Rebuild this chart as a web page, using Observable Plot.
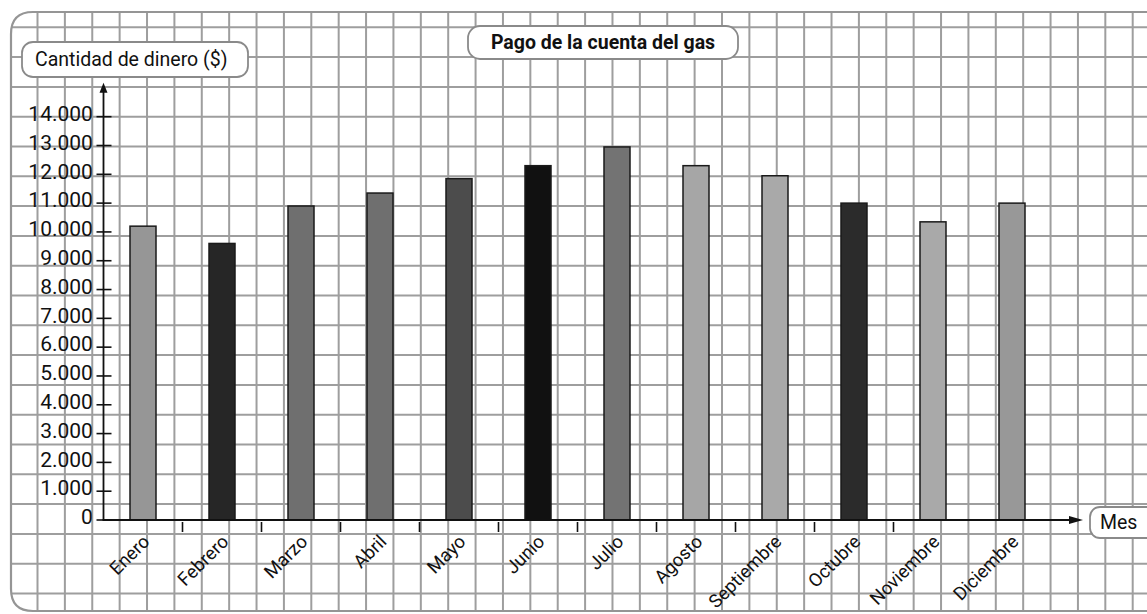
<!DOCTYPE html>
<html><head><meta charset="utf-8">
<script src="https://cdn.jsdelivr.net/npm/d3@7"></script>
<script src="https://cdn.jsdelivr.net/npm/@observablehq/plot@0.6"></script>
<style>
html,body{margin:0;padding:0;background:#fff;}
#chart{width:1147px;height:614px;}
</style></head><body><div id="chart"></div>
<script>
// ---- data ----
const months = ["Enero","Febrero","Marzo","Abril","Mayo","Junio","Julio","Agosto","Septiembre","Octubre","Noviembre","Diciembre"];
const amounts = [10200, 9600, 10900, 11350, 11850, 12300, 12950, 12300, 11950, 11000, 10350, 11000];
const barFills = ["#969696","#262626","#6f6f6f","#6f6f6f","#4c4c4c","#111111","#737373","#a6a6a6","#a9a9a9","#2b2b2b","#a9a9a9","#989898"];
const yTicks = [0,1000,2000,3000,4000,5000,6000,7000,8000,9000,10000,11000,12000,13000,14000];
const separatorMonths = ["Enero","Febrero","Marzo","Abril","Mayo","Junio","Julio","Agosto","Septiembre","Octubre"];
const titleText = "Pago de la cuenta del gas";
const yLabelText = "Cantidad de dinero ($)";
const xLabelText = "Mes";

// ---- chart ----
const W = 1147, H = 614;
const FONT = "Roboto, 'Open Sans', sans-serif";
const INK = "#111111";
const FS = 19;
const data = months.map((m, i) => ({month: m, amount: amounts[i], fill: barFills[i]}));
const fmt = d3.formatLocale({decimal: ",", thousands: ".", grouping: [3], currency: ["$", ""]}).format(",");

const plot = Plot.plot({
  width: W, height: H,
  marginLeft: 102.4, marginRight: 94.2, marginTop: 116.7, marginBottom: 94,
  style: {fontFamily: FONT, fontSize: FS + "px", fontWeight: 400, color: INK, background: "white", overflow: "visible"},
  x: {domain: months, paddingInner: 0.67, paddingOuter: 0.335, align: 0.5, axis: null},
  y: {domain: [0, 14000], axis: null},
  color: {type: "identity"},
  marks: [
    Plot.barY(data, {x: "month", y: "amount", fill: "fill", stroke: "#1a1a1a", strokeWidth: 1.5}),
    Plot.text(yTicks, {y: d => d, text: d => fmt(d), frameAnchor: "left", textAnchor: "end", dx: -10, dy: -3, fontSize: 21, fill: INK, style: "letter-spacing:-0.8px"}),
    Plot.text(data, {x: "month", y: 0, text: "month", rotate: -45, textAnchor: "end", dx: 3, dy: 18, fontSize: 18.5, fill: INK})
  ]
});
document.getElementById("chart").appendChild(plot);

// ---- decorations through the plot's scales ----
const svg = d3.select(plot);
const xs = plot.scale("x"), ys = plot.scale("y");
const bw = xs.bandwidth;
const step = xs.apply(months[1]) - xs.apply(months[0]);
const x0 = xs.apply(months[0]) - (step - bw) / 2;
const y0 = ys.apply(0);
const yTop = ys.apply(14000);

// grid paper background
const bg = svg.insert("g", ":first-child");
const frameL = 11, frameT = 12, frameB = 611, frameR = W + 30, rad = 22;
const framePath = `M${frameR},${frameT} L${frameL + rad},${frameT} Q${frameL},${frameT} ${frameL},${frameT + rad} L${frameL},${frameB - rad} Q${frameL},${frameB} ${frameL + rad},${frameB} L${frameR},${frameB}`;
svg.append("defs").append("clipPath").attr("id", "paperclip")
  .append("path").attr("d", framePath + " Z");
const grid = bg.append("g").attr("clip-path", "url(#paperclip)").attr("stroke", "#9e9e9e").attr("stroke-width", 2);
const gx = 37.5, gdx = 27.38, gy = yTop, gdy = 29.8;
for (let gxx = gx; gxx < W + 5; gxx += gdx) grid.append("line").attr("x1", gxx).attr("x2", gxx).attr("y1", 0).attr("y2", H);
for (let k = -4; k < 20; k++) { const yy = gy + k * gdy; grid.append("line").attr("x1", 0).attr("x2", W).attr("y1", yy).attr("y2", yy); }
bg.append("path").attr("d", framePath).attr("fill", "none").attr("stroke", "#959595").attr("stroke-width", 2.2);

// axes with arrowheads
const ax = svg.append("g").attr("stroke", INK).attr("fill", INK);
const yArrowTip = yTop - 34, xArrowTip = 1083;
ax.append("line").attr("x1", x0).attr("x2", x0).attr("y1", y0).attr("y2", yArrowTip + 6).attr("stroke-width", 1.8);
ax.append("path").attr("d", `M${x0},${yArrowTip} L${x0 - 4},${yArrowTip + 10} L${x0 + 4},${yArrowTip + 10} Z`).attr("stroke", "none");
ax.append("line").attr("x1", x0 - 1).attr("x2", xArrowTip - 8).attr("y1", y0).attr("y2", y0).attr("stroke-width", 1.8);
ax.append("path").attr("d", `M${xArrowTip},${y0} L${xArrowTip - 14},${y0 - 4} L${xArrowTip - 14},${y0 + 4} Z`).attr("stroke", "none");
yTicks.forEach(t => {
  const ty = ys.apply(t);
  ax.append("line").attr("x1", x0 - 7).attr("x2", x0 + 8).attr("y1", ty).attr("y2", ty).attr("stroke-width", 1.6);
});
separatorMonths.forEach(m => {
  const bx = xs.apply(m) + bw + (step - bw) / 2;
  ax.append("line").attr("x1", bx).attr("x2", bx).attr("y1", y0 + 2).attr("y2", y0 + 12).attr("stroke-width", 1.6);
});

// labelled boxes
function box(x, y, w, h, r, label, weight, size, tx, ty, anchor) {
  const g = svg.append("g");
  g.append("rect").attr("x", x).attr("y", y).attr("width", w).attr("height", h).attr("rx", r)
    .attr("fill", "white").attr("stroke", "#8a8a8a").attr("stroke-width", 1.8);
  g.append("text").attr("x", tx).attr("y", ty).attr("text-anchor", anchor).attr("dominant-baseline", "central")
    .attr("font-family", FONT).attr("font-size", size).attr("font-weight", weight).attr("fill", INK).text(label);
}
box(22, 42, 226, 35, 11, yLabelText, 400, 19.5, 35, 59.5, "start");
box(468, 26, 270, 33, 12, titleText, 700, 19.5, 603, 42.5, "middle");
box(1090, 507, 70, 31, 10, xLabelText, 400, 19.5, 1100, 522, "start");
</script></body></html>
